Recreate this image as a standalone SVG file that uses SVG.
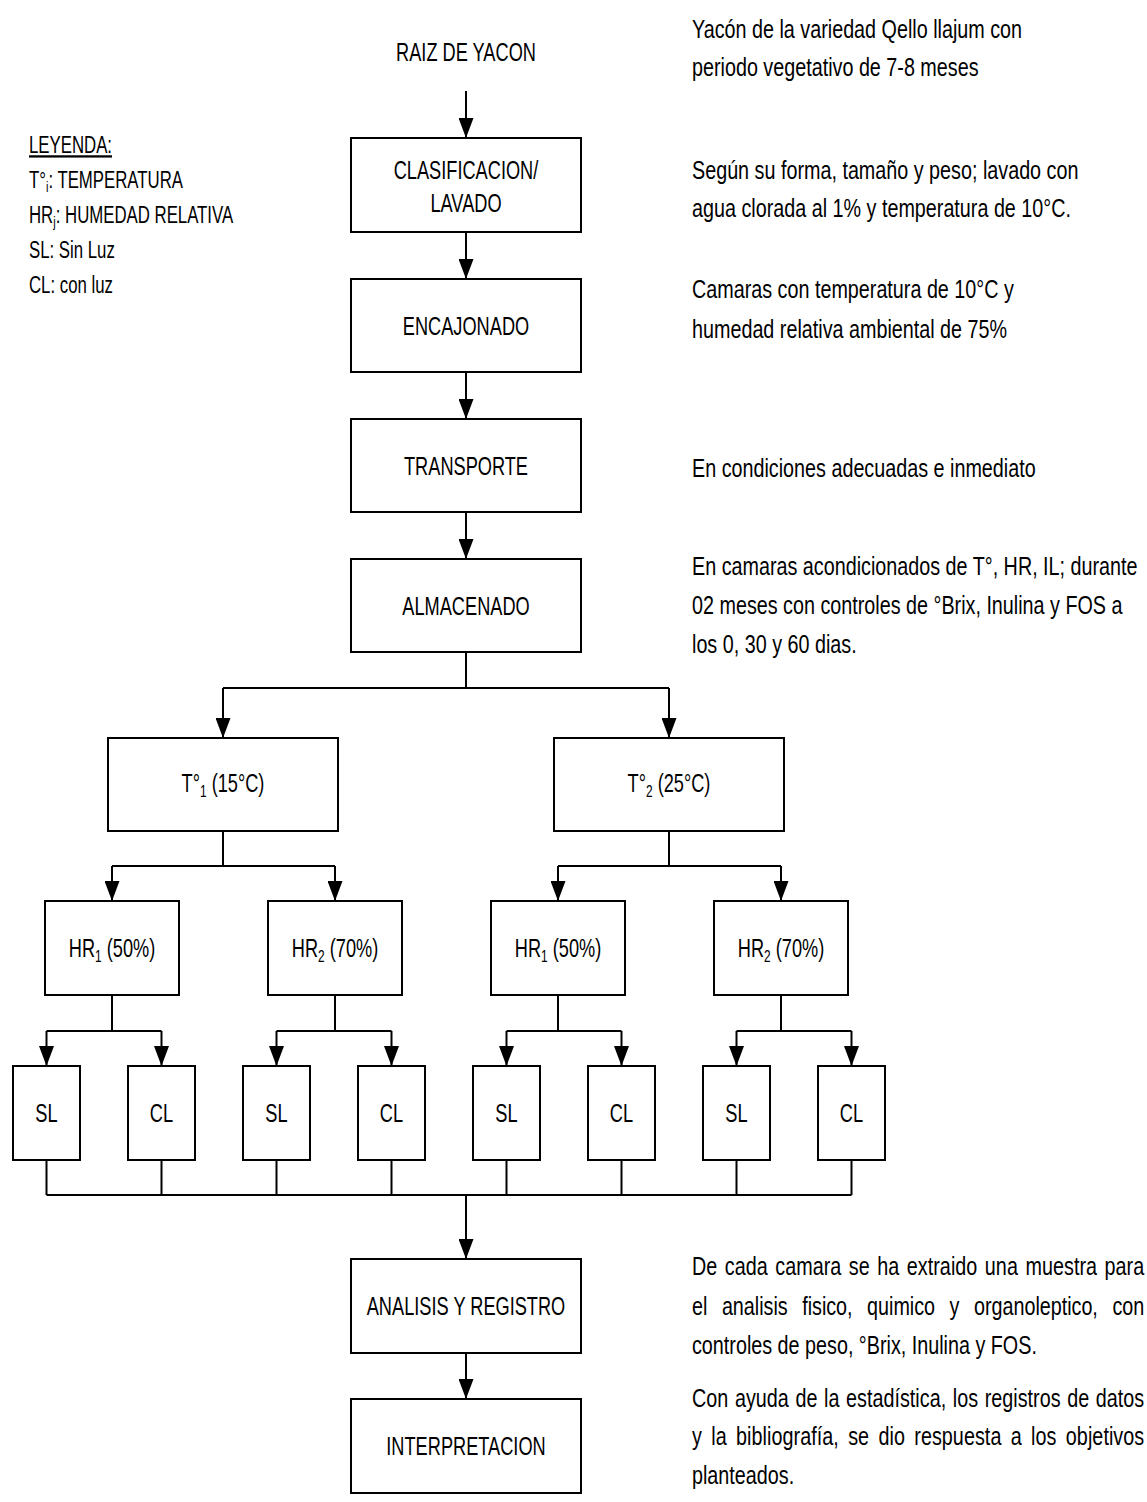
<svg xmlns="http://www.w3.org/2000/svg" width="1147" height="1502" viewBox="0 0 1147 1502">
<defs>
<style>
text{font-family:"Liberation Sans",Arial,sans-serif;fill:#000}
.b{font-size:26px;text-anchor:middle}
.n{font-size:26px}
.lg{font-size:23px}
.box{fill:#fff;stroke:#000;stroke-width:2}
.c{fill:none;stroke:#000;stroke-width:2}
.s{font-size:17px}
.ls{font-size:15px}
</style>
<marker id="ar" markerUnits="userSpaceOnUse" viewBox="0 0 20 15" markerWidth="20" markerHeight="15" refX="20" refY="7.5" orient="auto">
<path d="M0,0 L20,7.5 L0,15 z" fill="#000"/>
</marker>
</defs>
<rect width="1147" height="1502" fill="#fff"/>

<g id="legend">
<text class="lg" transform="translate(29,0) scale(0.73,1)" x="0" y="153" text-decoration="underline">LEYENDA:</text>
<text class="lg" transform="translate(29,0) scale(0.73,1)" x="0" y="188">T°<tspan class="ls" dy="4">i</tspan><tspan dy="-4">: TEMPERATURA</tspan></text>
<text class="lg" transform="translate(29,0) scale(0.73,1)" x="0" y="223">HR<tspan class="ls" dy="4">j</tspan><tspan dy="-4">: HUMEDAD RELATIVA</tspan></text>
<text class="lg" transform="translate(29,0) scale(0.73,1)" x="0" y="258">SL: Sin Luz</text>
<text class="lg" transform="translate(29,0) scale(0.73,1)" x="0" y="293">CL: con luz</text>
</g>

<g id="notes">
<text class="n" transform="translate(692,0) scale(0.76,1)" x="0" y="38">Yacón de la variedad Qello llajum con</text>
<text class="n" transform="translate(692,0) scale(0.76,1)" x="0" y="76">periodo vegetativo de 7-8 meses</text>
<text class="n" transform="translate(692,0) scale(0.76,1)" x="0" y="179">Según su forma, tamaño y peso; lavado con</text>
<text class="n" transform="translate(692,0) scale(0.76,1)" x="0" y="217">agua clorada al 1% y temperatura de 10°C.</text>
<text class="n" transform="translate(692,0) scale(0.76,1)" x="0" y="298">Camaras con temperatura de 10°C y</text>
<text class="n" transform="translate(692,0) scale(0.76,1)" x="0" y="338">humedad relativa ambiental de 75%</text>
<text class="n" transform="translate(692,0) scale(0.76,1)" x="0" y="477">En condiciones adecuadas e inmediato</text>
<text class="n" transform="translate(692,0) scale(0.76,1)" x="0" y="575">En camaras acondicionados de T°, HR, IL; durante</text>
<text class="n" transform="translate(692,0) scale(0.76,1)" x="0" y="614">02 meses con controles de °Brix, Inulina y FOS a</text>
<text class="n" transform="translate(692,0) scale(0.76,1)" x="0" y="653">los 0, 30 y 60 dias.</text>
<text class="n" transform="translate(692,0) scale(0.76,1)" x="0" y="1275" word-spacing="2.5" textLength="595" lengthAdjust="spacing">De cada camara se ha extraido una muestra para</text>
<text class="n" transform="translate(692,0) scale(0.76,1)" x="0" y="1315" word-spacing="12" textLength="595" lengthAdjust="spacing">el analisis fisico, quimico y organoleptico, con</text>
<text class="n" transform="translate(692,0) scale(0.76,1)" x="0" y="1354">controles de peso, °Brix, Inulina y FOS.</text>
<text class="n" transform="translate(692,0) scale(0.76,1)" x="0" y="1407" word-spacing="1.5" textLength="595" lengthAdjust="spacing">Con ayuda de la estadística, los registros de datos</text>
<text class="n" transform="translate(692,0) scale(0.76,1)" x="0" y="1445" word-spacing="5" textLength="595" lengthAdjust="spacing">y la bibliografía, se dio respuesta a los objetivos</text>
<text class="n" transform="translate(692,0) scale(0.76,1)" x="0" y="1484">planteados.</text>
</g>

<g id="raiz"><text class="b" transform="translate(466,0) scale(0.7,1)" x="0" y="61">RAIZ DE YACON</text></g>
<g id="clasificacion"><rect class="box" x="351" y="138" width="230" height="94"/><text class="b" transform="translate(466,0) scale(0.7,1)" x="0" y="179">CLASIFICACION/</text><text class="b" transform="translate(466,0) scale(0.7,1)" x="0" y="212">LAVADO</text></g>
<g id="encajonado"><rect class="box" x="351" y="279" width="230" height="93"/><text class="b" transform="translate(466,0) scale(0.7,1)" x="0" y="335">ENCAJONADO</text></g>
<g id="transporte"><rect class="box" x="351" y="419" width="230" height="93"/><text class="b" transform="translate(466,0) scale(0.7,1)" x="0" y="475">TRANSPORTE</text></g>
<g id="almacenado"><rect class="box" x="351" y="559" width="230" height="93"/><text class="b" transform="translate(466,0) scale(0.7,1)" x="0" y="615">ALMACENADO</text></g>

<g id="t1"><rect class="box" x="108" y="738" width="230" height="93"/><text class="b" transform="translate(223,0) scale(0.7,1)" x="0" y="792">T°<tspan class="s" dy="5">1</tspan><tspan dy="-5"> (15°C)</tspan></text></g>
<g id="t2"><rect class="box" x="554" y="738" width="230" height="93"/><text class="b" transform="translate(669,0) scale(0.7,1)" x="0" y="792">T°<tspan class="s" dy="5">2</tspan><tspan dy="-5"> (25°C)</tspan></text></g>

<g id="hr1a"><rect class="box" x="45" y="901" width="134" height="94"/><text class="b" transform="translate(112,0) scale(0.7,1)" x="0" y="957">HR<tspan class="s" dy="5">1</tspan><tspan dy="-5"> (50%)</tspan></text></g>
<g id="hr2a"><rect class="box" x="268" y="901" width="134" height="94"/><text class="b" transform="translate(335,0) scale(0.7,1)" x="0" y="957">HR<tspan class="s" dy="5">2</tspan><tspan dy="-5"> (70%)</tspan></text></g>
<g id="hr1b"><rect class="box" x="491" y="901" width="134" height="94"/><text class="b" transform="translate(558,0) scale(0.7,1)" x="0" y="957">HR<tspan class="s" dy="5">1</tspan><tspan dy="-5"> (50%)</tspan></text></g>
<g id="hr2b"><rect class="box" x="714" y="901" width="134" height="94"/><text class="b" transform="translate(781,0) scale(0.7,1)" x="0" y="957">HR<tspan class="s" dy="5">2</tspan><tspan dy="-5"> (70%)</tspan></text></g>

<g id="sl1"><rect class="box" x="13" y="1066" width="67" height="94"/><text class="b" transform="translate(46.5,0) scale(0.7,1)" x="0" y="1122">SL</text></g>
<g id="cl1"><rect class="box" x="128" y="1066" width="67" height="94"/><text class="b" transform="translate(161.5,0) scale(0.7,1)" x="0" y="1122">CL</text></g>
<g id="sl2"><rect class="box" x="243" y="1066" width="67" height="94"/><text class="b" transform="translate(276.5,0) scale(0.7,1)" x="0" y="1122">SL</text></g>
<g id="cl2"><rect class="box" x="358" y="1066" width="67" height="94"/><text class="b" transform="translate(391.5,0) scale(0.7,1)" x="0" y="1122">CL</text></g>
<g id="sl3"><rect class="box" x="473" y="1066" width="67" height="94"/><text class="b" transform="translate(506.5,0) scale(0.7,1)" x="0" y="1122">SL</text></g>
<g id="cl3"><rect class="box" x="588" y="1066" width="67" height="94"/><text class="b" transform="translate(621.5,0) scale(0.7,1)" x="0" y="1122">CL</text></g>
<g id="sl4"><rect class="box" x="703" y="1066" width="67" height="94"/><text class="b" transform="translate(736.5,0) scale(0.7,1)" x="0" y="1122">SL</text></g>
<g id="cl4"><rect class="box" x="818" y="1066" width="67" height="94"/><text class="b" transform="translate(851.5,0) scale(0.7,1)" x="0" y="1122">CL</text></g>

<g id="analisis"><rect class="box" x="351" y="1259" width="230" height="94"/><text class="b" transform="translate(466,0) scale(0.7,1)" x="0" y="1315">ANALISIS Y REGISTRO</text></g>
<g id="interpretacion"><rect class="box" x="351" y="1399" width="230" height="94"/><text class="b" transform="translate(466,0) scale(0.7,1)" x="0" y="1455">INTERPRETACION</text></g>

<g id="connectors">
<line class="c" x1="466" y1="91" x2="466" y2="138" marker-end="url(#ar)"/>
<line class="c" x1="466" y1="232" x2="466" y2="279" marker-end="url(#ar)"/>
<line class="c" x1="466" y1="372" x2="466" y2="419" marker-end="url(#ar)"/>
<line class="c" x1="466" y1="512" x2="466" y2="559" marker-end="url(#ar)"/>
<path class="c" d="M466,652 V688 M223,688 H669"/>
<path class="c" d="M223,688 V738" marker-end="url(#ar)"/>
<path class="c" d="M669,688 V738" marker-end="url(#ar)"/>

<path class="c" d="M223,831 V866 M112,866 H335 M669,831 V866 M558,866 H781"/>
<path class="c" d="M112,866 V901" marker-end="url(#ar)"/>
<path class="c" d="M335,866 V901" marker-end="url(#ar)"/>
<path class="c" d="M558,866 V901" marker-end="url(#ar)"/>
<path class="c" d="M781,866 V901" marker-end="url(#ar)"/>

<path class="c" d="M112,995 V1031 M46.5,1031 H161.5 M335,995 V1031 M276.5,1031 H391.5 M558,995 V1031 M506.5,1031 H621.5 M781,995 V1031 M736.5,1031 H851.5"/>
<path class="c" d="M46.5,1031 V1066" marker-end="url(#ar)"/>
<path class="c" d="M161.5,1031 V1066" marker-end="url(#ar)"/>
<path class="c" d="M276.5,1031 V1066" marker-end="url(#ar)"/>
<path class="c" d="M391.5,1031 V1066" marker-end="url(#ar)"/>
<path class="c" d="M506.5,1031 V1066" marker-end="url(#ar)"/>
<path class="c" d="M621.5,1031 V1066" marker-end="url(#ar)"/>
<path class="c" d="M736.5,1031 V1066" marker-end="url(#ar)"/>
<path class="c" d="M851.5,1031 V1066" marker-end="url(#ar)"/>

<path class="c" d="M46.5,1160 V1195 M161.5,1160 V1195 M276.5,1160 V1195 M391.5,1160 V1195 M506.5,1160 V1195 M621.5,1160 V1195 M736.5,1160 V1195 M851.5,1160 V1195 M46.5,1195 H851.5"/>
<line class="c" x1="466" y1="1195" x2="466" y2="1259" marker-end="url(#ar)"/>
<line class="c" x1="466" y1="1353" x2="466" y2="1399" marker-end="url(#ar)"/>
</g>
</svg>
